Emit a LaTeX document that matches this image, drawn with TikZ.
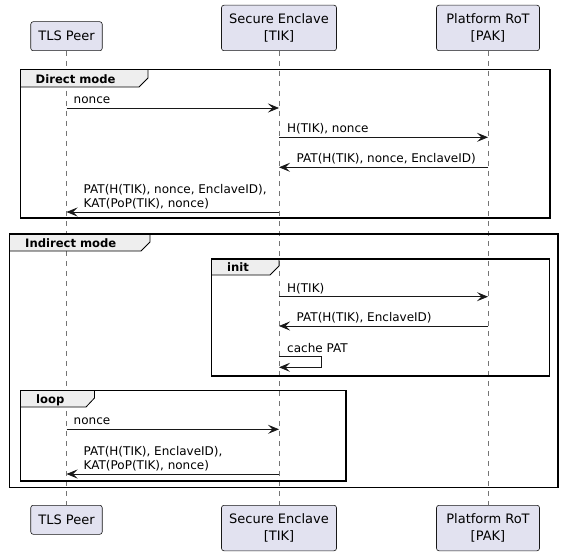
\documentclass[tikz,border=0pt]{standalone}
\usepackage{fontspec}
\setmainfont{DejaVu Sans}
\usetikzlibrary{arrows.meta}

\definecolor{ink}{HTML}{181818}
\definecolor{actorbg}{HTML}{E2E2F0}
\definecolor{tabbg}{HTML}{EEEEEE}

\begin{document}
\begin{tikzpicture}[
  x=1pt, y=-1pt,
  actor/.style={draw=ink, fill=actorbg, rounded corners=2.5pt, line width=0.6pt,
    align=center, inner sep=0pt, minimum height=29pt,
    font=\fontsize{13}{16.5}\selectfont},
  life/.style={ink!60, line width=0.6pt, dash pattern=on 5pt off 5pt},
  msg/.style={ink, line width=0.8pt, -{Stealth[length=11pt,width=9pt,inset=4.5pt]}},
  lbl/.style={inner sep=0pt, align=left, font=\fontsize{12}{14}\selectfont},
  frame/.style={black, line width=1.4pt},
  tab/.style={draw=black, fill=tabbg, line width=0.8pt},
  grp/.style={inner sep=0pt, font=\bfseries\fontsize{11.6}{14}\selectfont},
]
\path[use as bounding box, fill=white] (0,0) rectangle (564,556);

\node[actor, minimum width=71.5pt, anchor=south] (peerT) at (66.5,51) {TLS Peer};
\node[actor, minimum width=115pt, minimum height=45.5pt, anchor=south] (encT) at (279,51) {Secure Enclave\\{}[TIK]};
\node[actor, minimum width=103pt, minimum height=45.5pt, anchor=south] (rotT) at (488,51) {Platform RoT\\{}[PAK]};

\node[actor, minimum width=71.5pt, anchor=north] (peerB) at (66.5,505) {TLS Peer};
\node[actor, minimum width=115pt, minimum height=45.5pt, anchor=north] (encB) at (279,505) {Secure Enclave\\{}[TIK]};
\node[actor, minimum width=103pt, minimum height=45.5pt, anchor=north] (rotB) at (488,505) {Platform RoT\\{}[PAK]};

\draw[life] (peerT) -- (peerB);
\draw[life] (encT) -- (encB);
\draw[life] (rotT) -- (rotB);

\draw[tab] (20.5,69.5) -- (148,69.5) -- (148,78) -- (139,87) -- (20.5,87) -- cycle;
\draw[frame] (20.5,69.5) rectangle (550,218);
\node[grp, anchor=base west] (dirT) at (35.5,83.5) {Direct mode};

\draw[tab] (9.5,234) -- (150,234) -- (150,242) -- (141,251) -- (9.5,251) -- cycle;
\draw[frame] (9.5,234) rectangle (558,487.5);
\node[grp, anchor=base west] (indT) at (25,247) {Indirect mode};

\draw[tab] (211.5,259) -- (279,259) -- (279,266) -- (270,275) -- (211.5,275) -- cycle;
\draw[frame] (211.5,259) rectangle (549.5,376);
\node[grp, anchor=base west] (initT) at (227,271) {init};

\draw[tab] (20.5,390.5) -- (94.5,390.5) -- (94.5,398) -- (86,407) -- (20.5,407) -- cycle;
\draw[frame] (20.5,390.5) rectangle (346,481);
\node[grp, anchor=base west] (loopT) at (36,403) {loop};

\coordinate (r1) at (0,108);
\coordinate (r2) at (0,137.3);
\coordinate (r3) at (0,167.3);
\coordinate (r4) at (0,212);
\coordinate (r5) at (0,296.7);
\coordinate (r6) at (0,326);
\coordinate (r7) at (0,356);
\coordinate (r7b) at (0,367.3);
\coordinate (r8) at (0,429.3);
\coordinate (r9) at (0,474);

\draw[msg] (peerT |- r1) -- (encT |- r1);
\node[lbl, anchor=base west] (l1) at ([shift={(7pt,4.5pt)}]peerT |- r1) {nonce};
\draw[msg] (encT |- r2) -- (rotT |- r2);
\node[lbl, anchor=base west] (l2) at ([shift={(8pt,4.5pt)}]encT |- r2) {H(TIK), nonce};
\draw[msg] (rotT |- r3) -- (encT |- r3);
\node[lbl, anchor=base west] (l3) at ([shift={(17.5pt,4.5pt)}]encT |- r3) {PAT(H(TIK), nonce, EnclaveID)};
\draw[msg] (encT |- r4) -- (peerT |- r4);
\node[lbl, anchor=base west] (l4) at ([shift={(17pt,4.5pt)}]peerT |- r4) {PAT(H(TIK), nonce, EnclaveID),\\KAT(PoP(TIK), nonce)};

\draw[msg] (encT |- r5) -- (rotT |- r5);
\node[lbl, anchor=base west] (l5) at ([shift={(8pt,4.5pt)}]encT |- r5) {H(TIK)};
\draw[msg] (rotT |- r6) -- (encT |- r6);
\node[lbl, anchor=base west] (l6) at ([shift={(17.5pt,4.5pt)}]encT |- r6) {PAT(H(TIK), EnclaveID)};
\draw[msg] (encT |- r7) -- ++(42,0) |- (encT |- r7b);
\node[lbl, anchor=base west] (l7) at ([shift={(8pt,4pt)}]encT |- r7) {cache PAT};

\draw[msg] (peerT |- r8) -- (encT |- r8);
\node[lbl, anchor=base west] (l8) at ([shift={(7pt,4.5pt)}]peerT |- r8) {nonce};
\draw[msg] (encT |- r9) -- (peerT |- r9);
\node[lbl, anchor=base west] (l9) at ([shift={(17pt,4.5pt)}]peerT |- r9) {PAT(H(TIK), EnclaveID),\\KAT(PoP(TIK), nonce)};
\end{tikzpicture}
\end{document}
